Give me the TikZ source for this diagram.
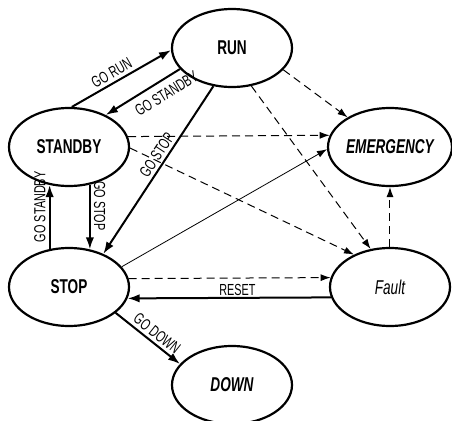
\documentclass[tikz,border=0pt]{standalone}
\usepackage{fontspec}
\setmainfont[FakeStretch=0.68]{Liberation Sans}
\usepackage{tikz}
\usetikzlibrary{shapes.geometric,arrows.meta,positioning}

\tikzset{
      mode/.style = {draw, ellipse, line width=1.1pt, inner sep=0pt,
                     minimum width=60pt, minimum height=39pt, font=\fontsize{10}{11}\selectfont\bfseries},
      cmd/.style = {line width=1pt, -{Latex[length=6pt,width=4.2pt]}},
      fltline/.style = {line width=0.5pt, dash pattern=on 4pt off 2.5pt, -{Latex[length=5pt,width=3.5pt]}},
      lbl/.style = {font=\fontsize{8}{9}\selectfont, inner sep=1.5pt, sloped}
}

\begin{document}
\begin{tikzpicture}[x=0.5pt,y=0.5pt]

                  \useasboundingbox (0,0) rectangle (452,420);

                  % States
                  \node[mode] (run) at (232,372) {RUN};
                  \node[mode] (standby) at (69,273) {STANDBY};
                  \node[mode] (emergency) at (390,273) {\itshape EMERGENCY};
                  \node[mode] (stop) at (69,133) {STOP};
                  \node[mode] (fault) at (390,133) {\mdseries\itshape Fault};
                  \node[mode] (down) at (232,35) {\itshape DOWN};

                  % Commands (solid)
                  \draw[cmd] (standby.86) -- node[lbl, pos=0.45, above] {GO RUN} (run.182);
                  \draw[cmd] (run.202) -- node[lbl, pos=0.28, below=2pt] {GO STANDBY} (standby.41);
                  \draw[cmd] (run.244) -- node[lbl, pos=0.44, above] {GO STOP} (stop.44);
                  \draw[cmd] (standby.299) -- node[lbl, pos=0.33, above] {GO STOP} (stop.61);
                  \draw[cmd] (stop.117) -- node[lbl, pos=0.66, above] {GO STANDBY} (standby.243);
                  \draw[cmd] (stop.331) -- node[lbl, pos=0.55, above] {GO DOWN} (down.158);
                  \draw[cmd] (fault.190.7) -- node[lbl, pos=0.46, above, inner sep=0.5pt] {RESET} (stop.349.3);

                  % Faults (dashed)
                  \draw[fltline] (run.337) -- (emergency.145);
                  \draw[fltline] (run.297) -- (fault.117);
                  \draw[fltline] (standby.10.7) -- (emergency.169.3);
                  \draw[fltline] (standby.359) -- (fault.138);
                  \draw[fltline] (stop.8.7) -- (fault.171.3);
                  \draw[fltline] (fault.90) -- (emergency.270);

                  % Stop to emergency
                  \draw[line width=0.4pt, -{Latex[length=5pt,width=3.5pt]}] (stop.21) -- (emergency.182);

\end{tikzpicture}
\end{document}
